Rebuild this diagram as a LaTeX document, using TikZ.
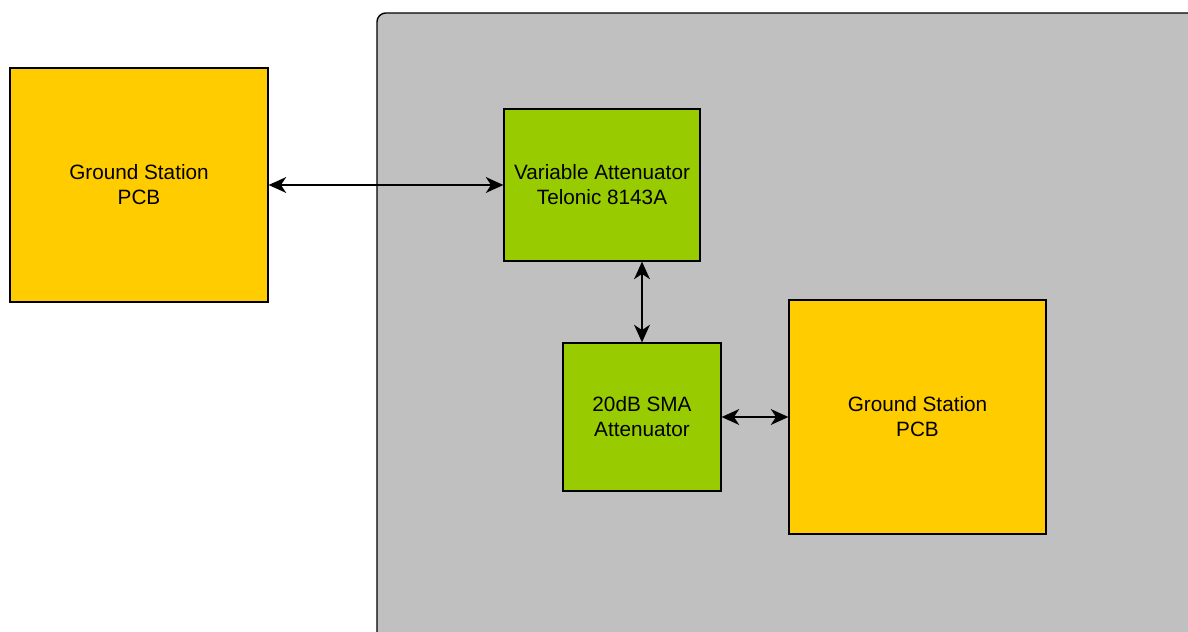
\documentclass[tikz,border=0pt]{standalone}
\usepackage{fontspec}
\setmainfont{Liberation Sans}
\usetikzlibrary{arrows.meta}
\definecolor{gsyellow}{HTML}{FFCC00}
\definecolor{attgreen}{HTML}{99CC00}
\definecolor{bggrey}{HTML}{C0C0C0}
\begin{document}
\begin{tikzpicture}[x=0.02cm,y=-0.02cm,
  blockbox/.style={draw=black,line width=0.7pt,align=center,inner sep=0pt,
    font=\fontsize{11.8pt}{14.2pt}\selectfont},
  gsbox/.style={blockbox,fill=gsyellow},
  attbox/.style={blockbox,fill=attgreen},
  link/.style={line width=1.1pt,{Stealth[length=10pt,width=9pt,inset=3pt]}-{Stealth[length=10pt,width=9pt,inset=3pt]}}]
\useasboundingbox (0,0) rectangle (1188,632);
\begin{scope}
\clip (0,0) rectangle (1188,632);
\draw[fill=bggrey,draw=black,line width=0.8pt,rounded corners=5pt] (377,13) rectangle (1220,660);
\end{scope}
\node[gsbox,minimum width=258*0.02cm,minimum height=234*0.02cm] (gs1) at (139,185) {Ground Station\\PCB};
\node[attbox,minimum width=196*0.02cm,minimum height=152*0.02cm] (va) at (602,185) {Variable Attenuator\\Telonic 8143A};
\node[attbox,minimum width=158*0.02cm,minimum height=148*0.02cm] (sma) at (642,417) {20dB SMA\\Attenuator};
\node[gsbox,minimum width=257*0.02cm,minimum height=234*0.02cm] (gs2) at (917.5,417) {Ground Station\\PCB};
\draw[link] (gs1.east) -- (va.west |- gs1.east);
\draw[link] (va.south -| sma.north) -- (sma.north);
\draw[link] (sma.east) -- (gs2.west |- sma.east);
\end{tikzpicture}
\end{document}
